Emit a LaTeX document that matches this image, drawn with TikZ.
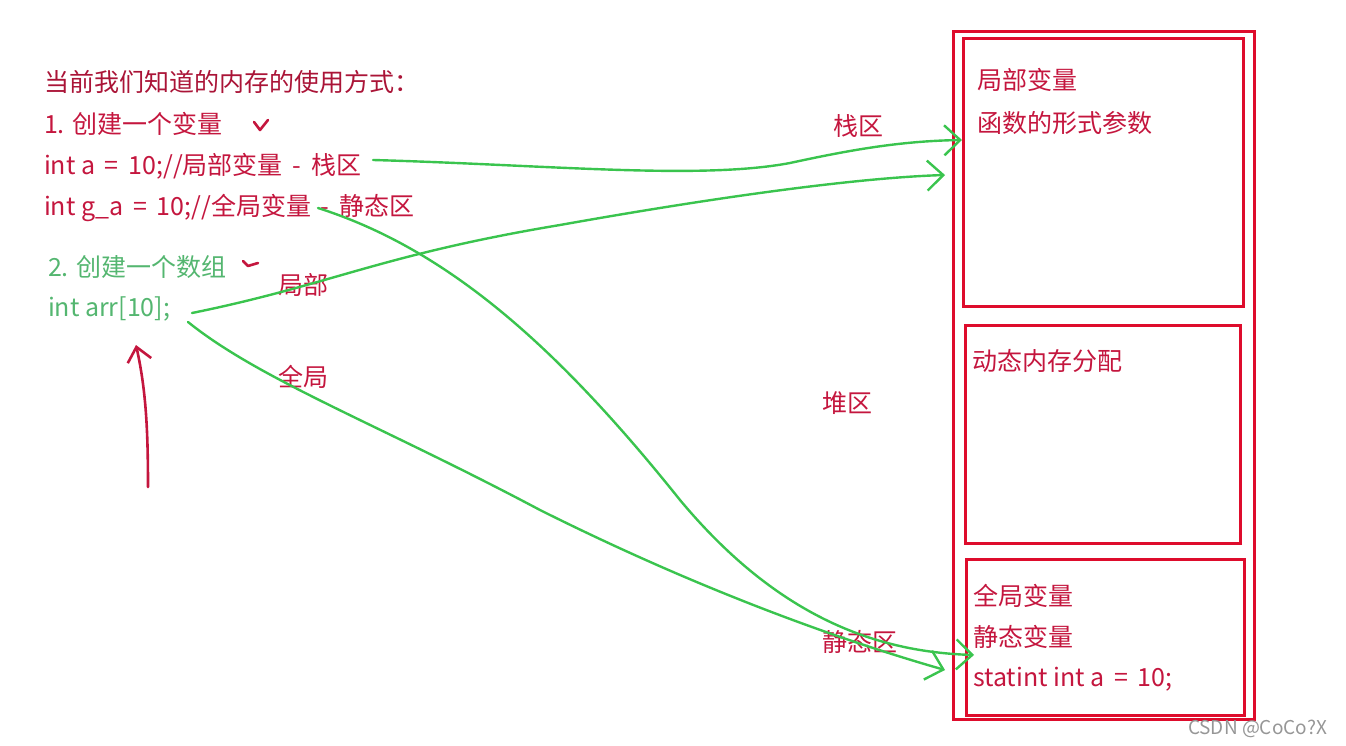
\documentclass[tikz,border=0pt]{standalone}
\usepackage{fontspec}
\setmainfont{Noto Sans CJK SC}
\usetikzlibrary{arrows.meta}
\definecolor{txtred}{RGB}{196,22,62}
\definecolor{txtdark}{RGB}{170,20,55}
\definecolor{boxred}{RGB}{222,12,44}
\definecolor{pen}{RGB}{58,196,78}
\definecolor{txtgreen}{RGB}{84,182,112}
\definecolor{mark}{RGB}{150,150,150}
\begin{document}
\begin{tikzpicture}[x=1pt,y=-1pt,
  txt/.style={inner sep=0pt,outer sep=0pt,anchor=west,font=\fontsize{25}{30}\selectfont},
  redtxt/.style={txt,text=txtred},
  greentxt/.style={txt,text=txtgreen},
  box/.style={draw=boxred,line width=2.6pt,inner sep=0pt,anchor=north west},
  pencurve/.style={draw=pen,line width=2.4pt,line cap=round,line join=round},
  penarrow/.style={pencurve,-{Straight Barb[length=16pt,width=30pt,line width=2.4pt]}},
  redpen/.style={draw=txtred,line width=2.6pt,line cap=round,line join=round}
]
\useasboundingbox (0,0) rectangle (1346,746);

% memory boxes
\node[box,minimum width=301pt,minimum height=688pt] (mem) at (952,30) {};
\node[box,minimum width=280pt,minimum height=268pt] (stack) at (962,37) {};
\node[box,minimum width=275pt,minimum height=218pt] (heap) at (964,324) {};
\node[box,minimum width=278pt,minimum height=156pt] (static) at (965,558) {};

% box texts
\node[redtxt] (s1) at (977,80) {局部变量};
\node[redtxt] (s2) at (977,123) {函数的形式参数};
\node[redtxt] (h1) at (972,361) {动态内存分配};
\node[redtxt] (g1) at (973,596) {全局变量};
\node[redtxt] (g2) at (973,637) {静态变量};
\node[redtxt] (g3) at (973,679) {statint int a \,=\, 10;};

% left texts
\node[txt,text=txtdark] (t0) at (44,82) {当前我们知道的内存的使用方式：};
\node[redtxt] (t1) at (44,124) {1. 创建一个变量};
\node[redtxt] (ta) at (44,166) {int a \,=\, 10;//局部变量 \,-\, 栈区};
\node[redtxt] (tg) at (44,208) {int g\_a \,=\, 10;//全局变量 \,-\, 静态区};
\node[greentxt] (t2) at (48,267) {2. 创建一个数组};
\node[greentxt] (tarr) at (48,309) {int arr[10];};

% region labels
\node[redtxt] (lj) at (278,285) {局部};
\node[redtxt] (qj) at (278,377) {全局};
\node[redtxt] (zq) at (833,126) {栈区};
\node[redtxt] (dq) at (822,403) {堆区};
\node[redtxt] (jt) at (822,642) {静态区};

% connector end points
\coordinate (aS) at (373,160);
\coordinate (gS) at (318,208);
\coordinate (arrS1) at (192,313);
\coordinate (arrS2) at (188,322);
\coordinate (stackA) at (962,140);
\coordinate (stackB) at (945,175);
\coordinate (staticA) at (974,655);
\coordinate (staticB) at (945,670);

% green connectors
\draw[penarrow] (aS) .. controls (550,165) and (700,180) .. (790,163)
  .. controls (850,150) and (900,141) .. (stackA);
\draw[penarrow] (arrS1) .. controls (330,285) and (380,255) .. (560,225)
  .. controls (700,200) and (850,178) .. (stackB);
\draw[penarrow] (gS) .. controls (450,250) and (560,350) .. (680,500)
  .. controls (780,620) and (880,652) .. (staticA);
\draw[penarrow] (arrS2) .. controls (260,380) and (380,425) .. (540,510)
  .. controls (700,590) and (840,640) .. (staticB);

% red arrow pointing at int arr[10];
\coordinate (redS) at (148,487);
\coordinate (redE) at (136,345);
\draw[redpen,-{Straight Barb[length=14pt,width=24pt,line width=2.6pt]}] (redS) .. controls (148,430) and (146,390) .. (redE);

% hand-drawn check marks
\draw[redpen] (254,122) -- (260,130) -- (268,120);
\draw[redpen] (243,261) -- (248,266) -- (258,263);

% watermark
\node[txt,text=mark,font=\fontsize{19}{22}\selectfont] (wm) at (1188,729) {CSDN @CoCo?X};
\end{tikzpicture}
\end{document}
